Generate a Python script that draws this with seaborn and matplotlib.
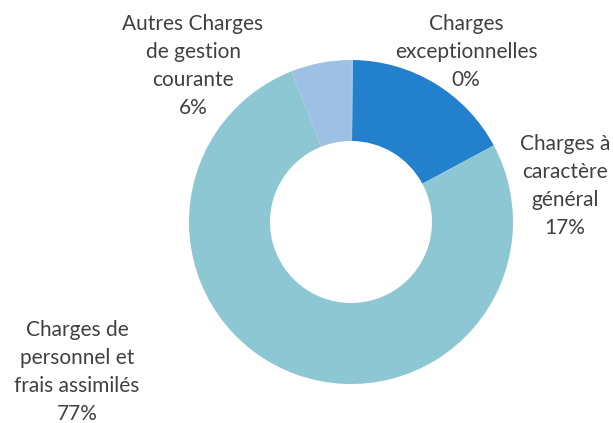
import matplotlib
matplotlib.use("Agg")
import matplotlib.pyplot as plt
import seaborn as sns

# Répartition des charges (en %)
categories = ["Charges\nexceptionnelles", "Charges à\ncaractère\ngénéral",
              "Charges de\npersonnel et\nfrais assimilés", "Autres Charges\nde gestion\ncourante"]
values = [0.2, 17, 77, 6]
pct_labels = ["0%", "17%", "77%", "6%"]

sns.set_theme(style="white")
plt.rcParams['font.family'] = ['Lato', 'DejaVu Sans']

colors = sns.color_palette(["#9ccbe0", "#2280cc", "#8cc7d3", "#9dc0e4"])

fig = plt.figure(figsize=(6.13, 4.23), dpi=100)
ax = fig.add_axes([0, 0, 1, 1])

# donut: centre and radius in pixel units of the figure
H = 423
ax.pie(values, colors=colors, startangle=90, counterclock=False,
       center=(351, H - 222), radius=162,
       wedgeprops=dict(width=81, linewidth=0))

# label block centres (x, y from top)
label_pos = [(466, 52), (565, 186), (77, 372), (193, 66)]
for cat, pct, (x, y) in zip(categories, pct_labels, label_pos):
    ax.text(x, H - y, cat + "\n" + pct, ha="center", va="center",
            fontsize=15, color="#404040", linespacing=1.5)

ax.set_xlim(0, 613)
ax.set_ylim(0, H)
ax.set_aspect("equal")
ax.axis("off")

fig.savefig("out.png", dpi=100, facecolor="white")
